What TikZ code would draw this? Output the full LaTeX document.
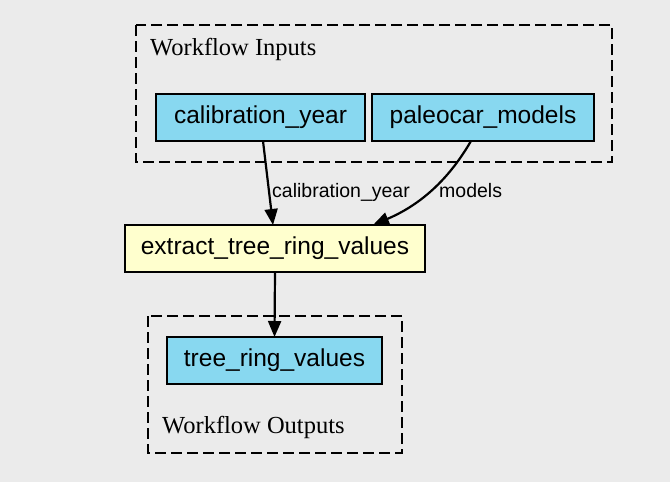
\documentclass[tikz,border=0pt]{standalone}
\usepackage{fontspec}
\setmainfont{Liberation Serif}
\setsansfont{Liberation Sans}
\usetikzlibrary{arrows.meta,calc}
\definecolor{bgc}{RGB}{235,235,235}
\definecolor{inblue}{RGB}{136,216,240}
\definecolor{stepyellow}{RGB}{255,255,206}
\tikzset{
  boxbase/.style={draw=black, line width=2.4pt, inner sep=0pt, outer sep=0pt,
    font=\sffamily\fontsize{24.5}{28}\selectfont},
  ioport/.style={boxbase, fill=inblue},
  stepbox/.style={boxbase, fill=stepyellow},
  cluster/.style={draw=black, line width=2.4pt, dash pattern=on 11pt off 5pt},
  clusterlabel/.style={font=\rmfamily\fontsize{24.5}{28}\selectfont, anchor=base west, inner sep=0pt},
  edgelabel/.style={font=\sffamily\fontsize{19.5}{22}\selectfont, anchor=base west, inner sep=0pt},
  flow/.style={draw=black, line width=2.2pt, -{Triangle[length=16pt,width=13pt]}}
}
\begin{document}
\begin{tikzpicture}[x=1pt,y=-1pt]
\useasboundingbox[fill=bgc] (0,0) rectangle (670,482);
% clusters
\draw[cluster] (136,25) rectangle (612,162);
\node[clusterlabel] (inlabel) at (150,55) {Workflow Inputs};
\draw[cluster] (148,316) rectangle (402,453);
\node[clusterlabel] (outlabel) at (162,433) {Workflow Outputs};
% nodes
\node[ioport, minimum width=209, minimum height=47] (cy) at (260.5,117.5) {calibration\_year};
\node[ioport, minimum width=222, minimum height=47] (pm) at (483,117.5) {paleocar\_models};
\node[stepbox, minimum width=300, minimum height=47] (ex) at (275,248.5) {extract\_tree\_ring\_values};
\node[ioport, minimum width=215, minimum height=47] (tr) at (274.5,360.5) {tree\_ring\_values};
% edges
\draw[flow] ([xshift=2.5pt]cy.south) -- ([xshift=-2pt]ex.north);
\draw[flow] ([xshift=-12pt]pm.south) .. controls (457,165) and (432,200) .. ([xshift=98pt]ex.north);
\draw[flow] (ex.south) -- (tr.north);
% edge labels
\node[edgelabel] (l1) at (272,197) {calibration\_year};
\node[edgelabel] (l2) at (439,197) {models};
\end{tikzpicture}
\end{document}
